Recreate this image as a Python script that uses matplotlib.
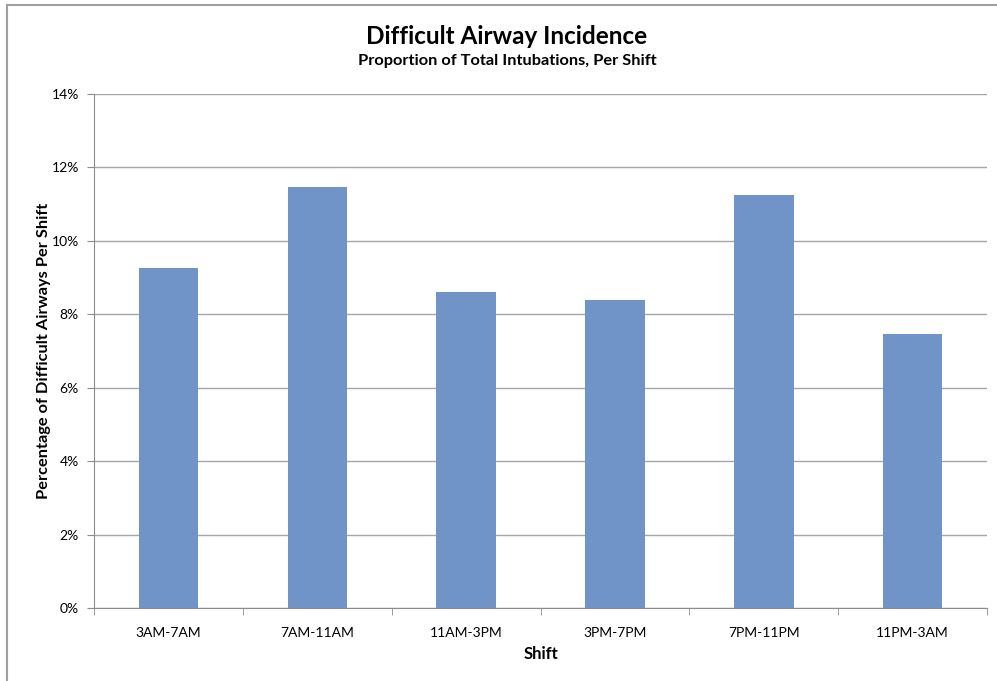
import numpy as np
import matplotlib.pyplot as plt
from matplotlib.ticker import PercentFormatter
from matplotlib.lines import Line2D

shifts = ["3AM-7AM", "7AM-11AM", "11AM-3PM", "3PM-7PM", "7PM-11PM", "11PM-3AM"]
pct = [9.26, 11.47, 8.61, 8.39, 11.25, 7.46]

plt.rcParams['font.family'] = ['Lato', 'DejaVu Sans']

fig = plt.figure(figsize=(9.97, 6.81), dpi=100)
ax = fig.add_axes([0.0943, 0.1072, 0.8957, 0.7548])

x = np.arange(len(shifts))
ax.bar(x, pct, width=0.4, color="#7094c8", zorder=3)

ax.set_xlim(-0.5, len(shifts) - 0.5)
ax.set_ylim(0, 14)
ax.set_yticks(np.arange(0, 15, 2))
ax.yaxis.set_major_formatter(PercentFormatter(decimals=0))
ax.grid(axis='y', color="#a6a6a6", linewidth=1, zorder=0)

ax.set_xticks(x)
ax.set_xticklabels(shifts, fontsize=10)
ax.set_xticks(np.arange(-0.5, len(shifts)), minor=True)
ax.tick_params(axis='x', which='major', length=0, pad=14)
ax.tick_params(axis='x', which='minor', length=5, color="#8c8c8c")
ax.tick_params(axis='y', length=5, color="#8c8c8c", labelsize=10, pad=6)

for s in ['top', 'right']:
    ax.spines[s].set_visible(False)
for s in ['left', 'bottom']:
    ax.spines[s].set_color("#8c8c8c")

ax.set_ylabel("Percentage of Difficult Airways Per Shift", fontsize=11.8, fontweight='bold', labelpad=0)
ax.set_xlabel("Shift", fontsize=12, fontweight='bold', labelpad=5)

fig.text(0.5085, 0.946, "Difficult Airway Incidence", ha='center', va='center', fontsize=17.5, fontweight='bold')
fig.text(0.5085, 0.910, "Proportion of Total Intubations, Per Shift", ha='center', va='center', fontsize=11.8, fontweight='bold')

# outer chart frame
fig.add_artist(Line2D([0.007, 0.007], [0, 0.993], transform=fig.transFigure, color="#a0a0a0", linewidth=1.5))
fig.add_artist(Line2D([0.007, 1], [0.993, 0.993], transform=fig.transFigure, color="#a0a0a0", linewidth=1.5))

fig.savefig("out.png", dpi=100)
